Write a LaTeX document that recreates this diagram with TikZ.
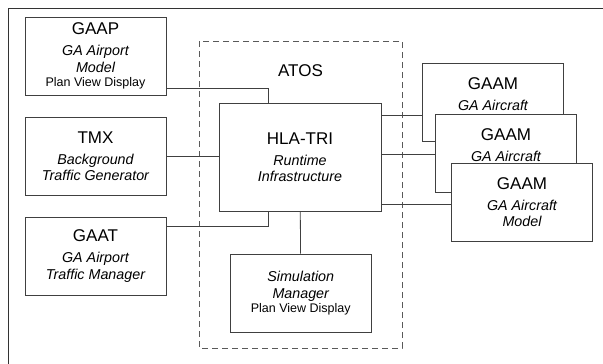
\documentclass[tikz,border=0pt]{standalone}
\usepackage{fontspec}
\setmainfont{Liberation Sans}

\begin{document}
\begin{tikzpicture}[x=1pt, y=-1pt, line width=0.8pt,
    box/.style={draw=black!75, fill=white, minimum width=141pt, minimum height=78pt,
      align=center, inner sep=0pt, font=\fontsize{14.3}{16.5}\selectfont\itshape},
    bigbox/.style={box, minimum width=162pt, minimum height=108pt},
    wire/.style={draw=black!75},
    frame/.style={draw=black!65, dash pattern=on 6pt off 4pt}]
  % ATOS federation
    \def\ttl{\fontsize{17}{18}\selectfont\upshape}
    \def\sml{\fontsize{12.5}{14}\selectfont\upshape}
    \useasboundingbox (0,0) rectangle (603,364);

    \draw[black!80] (603,8) -- (8,8) -- (8,364);
    \draw[frame] (199,41) rectangle (402,348);
    \node (atos) at (300.5,71) {\ttl ATOS};

    \node[box] (gaap) at (95.5,56) {{\ttl GAAP}\\[4.5pt]GA Airport\\Model\\[-2.5pt]{\sml Plan View Display}};
    \node[box] (tmx) at (95.5,156) {{\ttl TMX}\\[4.5pt]Background\\Traffic Generator};
    \node[box] (gaat) at (95.5,256) {{\ttl GAAT}\\[4.5pt]GA Airport\\Traffic Manager};

    \node[bigbox] (hla) at (300,157) {{\ttl HLA-TRI}\\[4.5pt]Runtime\\Infrastructure};
    \node[box] (sim) at (300.75,293) {Simulation\\Manager\\[-2.5pt]{\sml Plan View Display}};

    \draw[wire] ([yshift=-32pt]gaap.east) -| ([xshift=-32pt]hla.north);
    \draw[wire] (tmx.east) -- (tmx.east -| hla.west);
    \draw[wire] ([yshift=30pt]gaat.east) -| ([xshift=-32pt]hla.south);
    \draw[wire] (hla) -- (sim);
    \draw[wire] (hla.east |- 0,115) -- (422,115) coordinate (inA);
    \draw[wire] (hla.east |- 0,154) -- (435,154) coordinate (inB);
    \draw[wire] (hla.east |- 0,204) -- (451.5,204) coordinate (inC);

    \node[box] (gaama) at (493,102) {{\ttl GAAM}\\[4.5pt]GA Aircraft\\\mbox{}};
    \node[box] (gaamb) at (506,153) {{\ttl GAAM}\\[4.5pt]GA Aircraft\\\mbox{}};
    \node[box] (gaamc) at (522,202) {{\ttl GAAM}\\[4.5pt]GA Aircraft\\Model};
  \end{tikzpicture}
\end{document}
